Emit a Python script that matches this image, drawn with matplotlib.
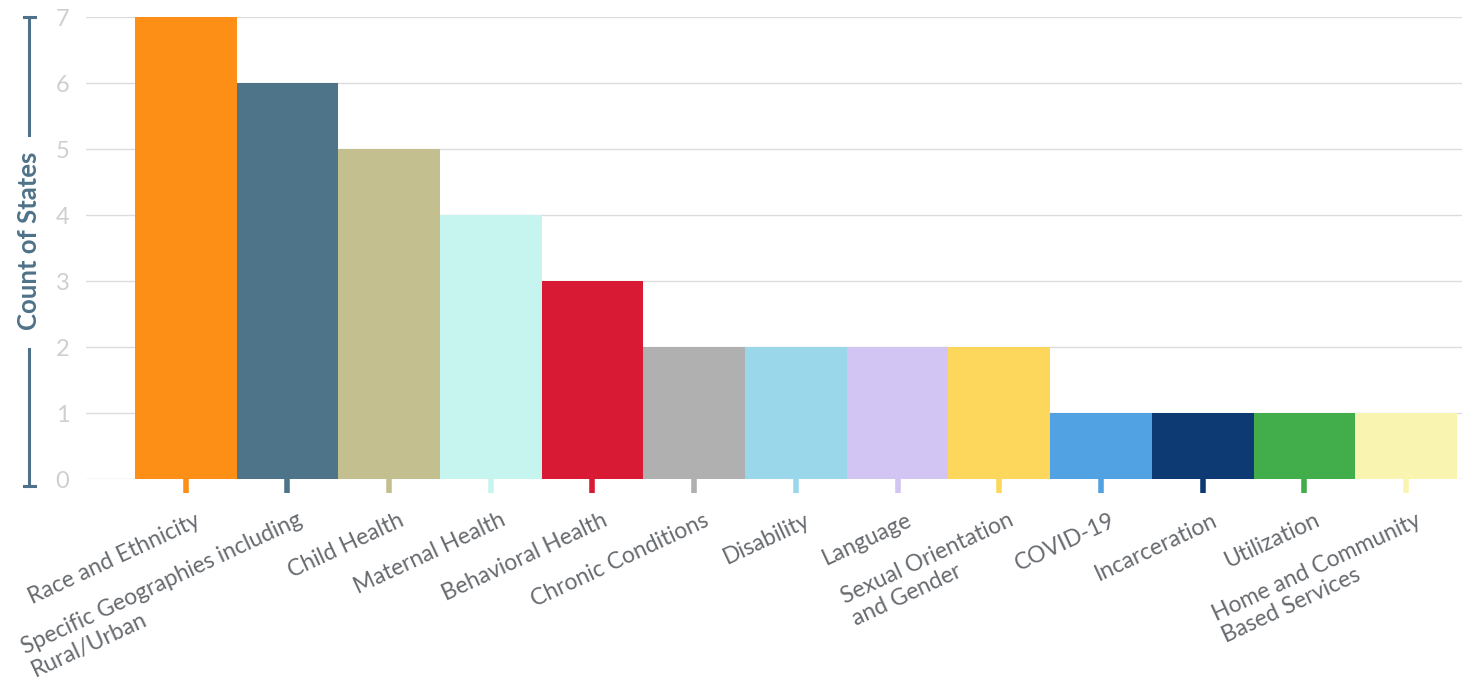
import matplotlib
matplotlib.use("Agg")
import matplotlib.pyplot as plt
import matplotlib.transforms as mtransforms
from matplotlib.lines import Line2D
import numpy as np

plt.rcParams['font.family'] = ['Lato', 'DejaVu Sans']

categories = [
    "Race and Ethnicity",
    "Specific Geographies including\nRural/Urban",
    "Child Health",
    "Maternal Health",
    "Behavioral Health",
    "Chronic Conditions",
    "Disability",
    "Language",
    "Sexual Orientation\nand Gender",
    "COVID-19",
    "Incarceration",
    "Utilization",
    "Home and Community\nBased Services",
]
counts = [7, 6, 5, 4, 3, 2, 2, 2, 2, 1, 1, 1, 1]
colors = [
    "#fd8f17", "#4e7489", "#c3bf8f", "#c6f5f0", "#d91a34", "#b0b0b0",
    "#9bd7ea", "#d2c4f3", "#fcd75b", "#50a2e2", "#0d3a72", "#41ae4b",
    "#f9f5b0",
]
yticks = [0, 1, 2, 3, 4, 5, 6, 7]
ylabel = "Count of States"

fig = plt.figure(figsize=(14.71, 6.8), dpi=100)
ax = fig.add_axes([86 / 1471, 1 - 479 / 680, (1462 - 86) / 1471, (479 - 17) / 680])

x = np.arange(len(categories))
ax.bar(x, counts, width=1.0, color=colors, zorder=2)

ax.set_xlim(-0.98, len(categories) - 0.45)
ax.set_ylim(0, 7)
ax.set_yticks(yticks)
ax.grid(axis='y', color='#dcdcdc', linewidth=1.0, zorder=0)
for s in ax.spines.values():
    s.set_visible(False)

ax.tick_params(axis='y', length=0, pad=12, labelsize=17, labelcolor='#cfcfcf')
ax.set_xticks(x)
ax.set_xticklabels(categories, rotation=25, ha='right', va='top',
                   rotation_mode='anchor', multialignment='left',
                   fontsize=16.5, color='#676b6f')
ax.tick_params(axis='x', length=10, width=4, pad=12, direction='out')
for t, c in zip(ax.xaxis.get_major_ticks(), colors):
    t.tick1line.set_markeredgecolor(c)
offset = mtransforms.ScaledTranslation(9 / 100, 0, fig.dpi_scale_trans)
for lab in ax.get_xticklabels():
    lab.set_transform(lab.get_transform() + offset)

# y label with bracket lines
lab_col = '#4e7289'
fig.text(29 / 1471, 1 - 241 / 680, ylabel, rotation=90, ha='center', va='center',
         fontsize=18.5, fontweight='bold', color=lab_col)
xl = 29 / 1471
for y0, y1 in [(17, 135), (349, 486)]:
    fig.add_artist(Line2D([xl, xl], [1 - y0 / 680, 1 - y1 / 680],
                          color=lab_col, linewidth=2.2, transform=fig.transFigure))
for yy in (17, 486):
    fig.add_artist(Line2D([24 / 1471, 35 / 1471], [1 - yy / 680, 1 - yy / 680],
                          color=lab_col, linewidth=2.2, transform=fig.transFigure))

fig.savefig("out.png", dpi=100)
